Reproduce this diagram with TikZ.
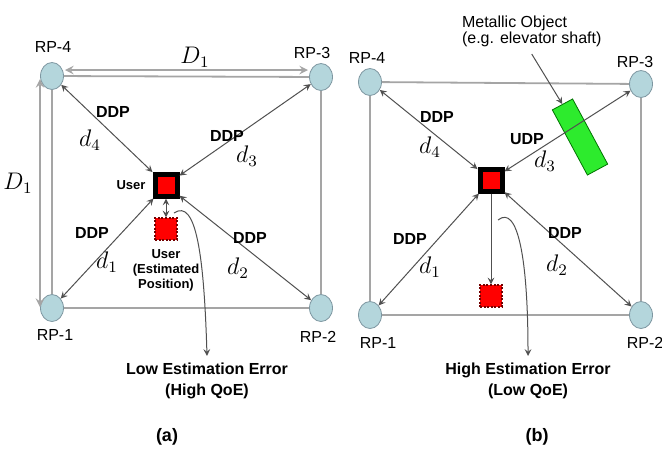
\documentclass[tikz,border=0pt]{standalone}
\usepackage{fontspec}
\setmainfont{Liberation Sans}
\usetikzlibrary{shapes.geometric, arrows, positioning}

\definecolor{rpfill}{RGB}{180,214,220}
\definecolor{rpdraw}{RGB}{125,150,160}
\definecolor{wallgray}{RGB}{165,165,165}
\definecolor{arrowgray}{RGB}{80,80,80}
\definecolor{shaftgreen}{RGB}{45,235,45}

\begin{document}
\begin{tikzpicture}[
    x=0.5pt, y=-0.5pt,
    rp/.style={ellipse, draw=rpdraw, fill=rpfill, minimum width=11.5pt, minimum height=13.5pt, inner sep=0pt},
    rplabel/.style={font=\fontsize{8}{8}\selectfont},
    user/.style={rectangle, draw=black, fill=red, line width=2.5pt, minimum size=11pt, inner sep=0pt},
    estim/.style={rectangle, draw=red!45!black, fill=red, line width=0.6pt, dash pattern=on 1pt off 0.8pt, minimum size=11pt, inner sep=0pt},
    shaft/.style={rectangle, draw=green!45!black, fill=shaftgreen, minimum width=37pt, minimum height=11.5pt, rotate=-61.7},
    wall/.style={color=wallgray, line width=0.9pt},
    dim/.style={<->, >=stealth, color=wallgray, line width=0.9pt},
    arrow/.style={->, >=stealth, color=arrowgray, line width=0.5pt},
    proto/.style={font=\bfseries\fontsize{8}{9.5}\selectfont, inner sep=1pt},
    dist/.style={font=\fontsize{12}{14}\selectfont, inner sep=0.5pt},
    small/.style={font=\bfseries\fontsize{6.5}{7.5}\selectfont, align=center},
    caption/.style={font=\bfseries\fontsize{8}{10.5}\selectfont, align=center}
]
\useasboundingbox (0,0) rectangle (662,456);

% (a)
\node[rp] (rp4a) at (52,76) {};
\node[rp] (rp3a) at (321,77) {};
\node[rp] (rp1a) at (52,308) {};
\node[rp] (rp2a) at (321,308) {};
\node[rplabel] (rp4al) at (53,47) {RP-4};
\node[rplabel] (rp3al) at (312,53) {RP-3};
\node[rplabel] (rp1al) at (55,335) {RP-1};
\node[rplabel] (rp2al) at (318,337) {RP-2};

\draw[wall] (rp4a) -- (rp3a);
\draw[wall] (rp4a) -- (rp1a);
\draw[wall] (rp3a) -- (rp2a);
\draw[wall] (rp1a) -- (rp2a);

\coordinate (dtl) at (65,70);
\coordinate (dtr) at (308,70);
\coordinate (dlt) at (40,79);
\coordinate (dlb) at (40,307);
\draw[dim] (dtl) -- (dtr);
\draw[dim] (dlt) -- (dlb);
\node[font=\fontsize{12}{14}\selectfont] (d1top) at (195,57) {$D_1$};
\node[font=\fontsize{12}{14}\selectfont] (d1left) at (18,183) {$D_1$};

\node[user] (usera) at (166,185) {};
\node[small, left=0pt of usera] (userla) {User};
\node[estim] (esta) at (166,229) {};
\node[small, below=1pt of esta] (estla) {User\\(Estimated\\Position)};

\draw[arrow, <->] (rp4a) -- (usera);
\draw[arrow, <->] (rp3a) -- (usera);
\draw[arrow, <->] (rp1a) -- (usera);
\draw[arrow, <->] (rp2a) -- (usera);
\draw[arrow, <->] (usera) -- (esta);

\node[proto] (ddp4a) at (113,112) {DDP};
\node[dist] (d4a) at (90,140) {$d_4$};
\node[proto] (ddp3a) at (227,136) {DDP};
\node[dist] (d3a) at (247,156) {$d_3$};
\node[proto] (ddp1a) at (92,233) {DDP};
\node[dist] (d1a) at (107,262) {$d_1$};
\node[proto] (ddp2a) at (250,238) {DDP};
\node[dist] (d2a) at (238,268) {$d_2$};

\coordinate (hooka) at (174,213);
\node[caption] (erra) at (207,381) {Low Estimation Error\\(High QoE)};
\draw[arrow] (hooka) .. controls (196,198) and (204,255) .. (erra.north);
\node[font=\bfseries\fontsize{9}{11}\selectfont] (capa) at (167,437) {(a)};

% (b)
\node[rp] (rp4b) at (370,82) {};
\node[rp] (rp3b) at (641,84) {};
\node[rp] (rp1b) at (370,315) {};
\node[rp] (rp2b) at (641,315) {};
\node[rplabel] (rp4bl) at (367,58) {RP-4};
\node[rplabel] (rp3bl) at (635,62) {RP-3};
\node[rplabel] (rp1bl) at (378,343) {RP-1};
\node[rplabel] (rp2bl) at (645,343) {RP-2};

\draw[wall] (rp4b) -- (rp3b);
\draw[wall] (rp4b) -- (rp1b);
\draw[wall] (rp3b) -- (rp2b);
\draw[wall] (rp1b) -- (rp2b);

\node[user] (userb) at (491,180) {};
\node[estim] (estb) at (491,296) {};
\node[shaft] (shaftb) at (580,137) {};
\node[rplabel, align=left, anchor=north west] (metal) at (455,9) {Metallic Object\\(e.g. elevator shaft)};
\draw[arrow] (metal.south) -- (shaftb.west);

\draw[arrow, <->] (rp4b) -- (userb);
\draw[arrow, <->] (rp3b) -- (userb);
\draw[arrow, <->] (rp1b) -- (userb);
\draw[arrow, <->] (rp2b) -- (userb);
\draw[arrow] (userb) -- (estb);

\node[proto] (ddp4b) at (437,117) {DDP};
\node[dist] (d4b) at (430,147) {$d_4$};
\node[proto] (udp3b) at (527,139) {UDP};
\node[dist] (d3b) at (545,161) {$d_3$};
\node[proto] (ddp1b) at (410,239) {DDP};
\node[dist] (d1b) at (430,267) {$d_1$};
\node[proto] (ddp2b) at (565,233) {DDP};
\node[dist] (d2b) at (557,265) {$d_2$};

\coordinate (hookb) at (498,220);
\node[caption] (errb) at (528,381) {High Estimation Error\\(Low QoE)};
\draw[arrow] (hookb) .. controls (518,204) and (528,260) .. (errb.north);
\node[font=\bfseries\fontsize{9}{11}\selectfont] (capb) at (537,437) {(b)};

\end{tikzpicture}
\end{document}
